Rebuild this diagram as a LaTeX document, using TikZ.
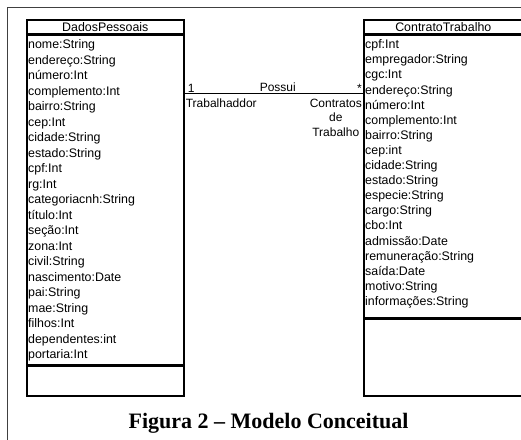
\documentclass[tikz,border=0pt]{standalone}
\usepackage{fontspec}
\setmainfont{Liberation Serif}
\newfontfamily\umlfont{Liberation Sans}
\usetikzlibrary{positioning}

\begin{document}
\begin{tikzpicture}[x=1pt, y=-1pt,
    node distance=0pt,
    classhead/.style={draw, line width=1.6pt, minimum height=14pt, inner sep=0pt,
      font=\umlfont\fontsize{12.4}{13}\selectfont},
    classbody/.style={draw, line width=1.6pt, inner sep=0pt},
    attrlist/.style={align=left, inner sep=0pt, font=\umlfont\fontsize{12.4}{15.5}\selectfont},
    rolelabel/.style={inner sep=1pt, font=\umlfont\fontsize{12}{14.5}\selectfont},
    frame/.style={draw=black!75, line width=1.3pt},
    assoc/.style={draw, line width=1pt}]
  \useasboundingbox (0,0) rectangle (521,439);
  \draw[frame] (7.5,440) |- (523,7.5);

  % class DadosPessoais
  \node[classhead, minimum width=157pt, anchor=north west] (dadosHead) at (26,19) {DadosPessoais};
  \node[classbody, minimum width=157pt, minimum height=329pt, below=of dadosHead] (dadosAttr) {};
  \node[classbody, minimum width=157pt, minimum height=30pt, below=of dadosAttr] (dadosOps) {};
  \node[attrlist, anchor=north west] (dadosList) at ([xshift=2pt, yshift=-5pt]dadosAttr.north west)
    {nome:String\\endereço:String\\número:Int\\complemento:Int\\bairro:String\\cep:Int\\
     cidade:String\\estado:String\\cpf:Int\\rg:Int\\categoriacnh:String\\título:Int\\seção:Int\\
     zona:Int\\civil:String\\nascimento:Date\\pai:String\\mae:String\\filhos:Int\\
     dependentes:int\\portaria:Int};

  % class ContratoTrabalho
  \node[classhead, minimum width=159pt, anchor=north west] (contratoHead) at (363,19) {ContratoTrabalho};
  \node[classbody, minimum width=159pt, minimum height=282pt, below=of contratoHead] (contratoAttr) {};
  \node[classbody, minimum width=159pt, minimum height=77pt, below=of contratoAttr] (contratoOps) {};
  \node[attrlist, anchor=north west, font=\umlfont\fontsize{12.4}{15.1}\selectfont] (contratoList)
    at ([xshift=2pt, yshift=-5pt]contratoAttr.north west)
    {cpf:Int\\empregador:String\\cgc:Int\\endereço:String\\número:Int\\complemento:Int\\
     bairro:String\\cep:int\\cidade:String\\estado:String\\especie:String\\cargo:String\\
     cbo:Int\\admissão:Date\\remuneração:String\\saída:Date\\motivo:String\\informações:String};

  % association
  \path (dadosAttr.north east) ++(0,59) coordinate (endDados);
  \path (contratoAttr.north west) ++(0,59) coordinate (endContrato);
  \draw[assoc] (endDados) -- node[rolelabel, above, xshift=4pt] (possui) {Possui} (endContrato);
  \node[rolelabel, anchor=south west, xshift=2pt] (multDados) at (endDados) {1};
  \node[rolelabel, anchor=south east] (multContrato) at (endContrato) {*};
  \node[rolelabel, anchor=north west, yshift=-4pt] (roleDados) at (endDados) {Trabalhaddor};
  \node[rolelabel, anchor=north east, align=center, yshift=-4pt] (roleContrato) at (endContrato) {Contratos\\de\\Trabalho};

  \node[font=\bfseries\fontsize{22}{24}\selectfont] (caption) at (268.5,423) {Figura 2 – Modelo Conceitual};
\end{tikzpicture}
\end{document}
